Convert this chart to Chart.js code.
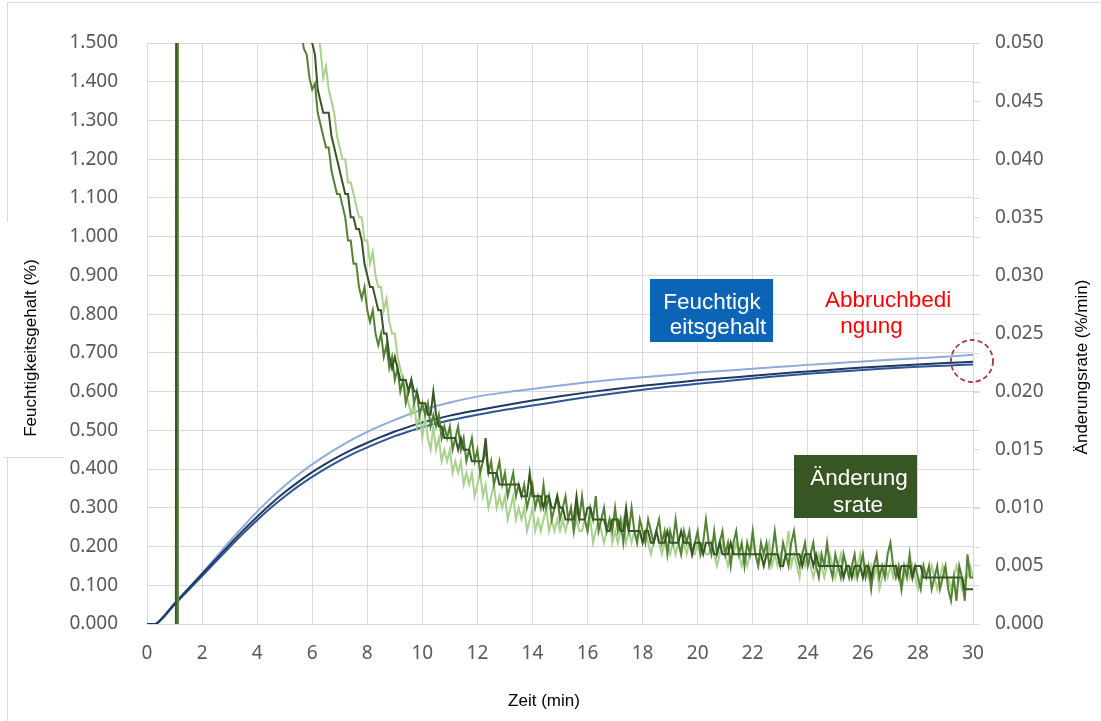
<!DOCTYPE html>
<html><head><meta charset="utf-8">
<script src="https://cdn.jsdelivr.net/npm/chart.js@4.4.1/dist/chart.umd.min.js"></script>
<style>html,body{margin:0;padding:0;background:#fff;}canvas{display:block;}</style>
</head><body>
<canvas id="c" width="1101" height="721"></canvas>
<script>
// ---- axis ticks ----
const xTicks = [0,2,4,6,8,10,12,14,16,18,20,22,24,26,28,30];
const leftTicks = [0,0.1,0.2,0.3,0.4,0.5,0.6,0.7,0.8,0.9,1.0,1.1,1.2,1.3,1.4,1.5];
const rightTicks = [0,0.005,0.01,0.015,0.02,0.025,0.03,0.035,0.04,0.045,0.05];

// ---- moisture content (%) ----
const moistT = [0,0.3,0.5,1,1.5,2,2.5,3,3.5,4,4.5,5,5.5,6,6.5,7,7.5,8,8.5,9,9.5,10,
  11,12,13,14,15,16,17,18,19,20,21,22,23,24,25,26,27,28,29,30];
const moistLight = [0,0,0.01,0.052,0.091,0.131,0.172,0.213,0.252,0.29,0.325,0.357,0.386,0.412,0.436,0.458,0.478,0.496,0.512,0.527,0.541,0.553,
  0.572,0.587,0.598,0.607,0.616,0.624,0.631,0.637,0.643,0.649,0.654,0.659,0.664,0.669,0.673,0.678,0.682,0.686,0.69,0.695];
const moistNavy = [0,0,0.012,0.053,0.091,0.129,0.167,0.205,0.242,0.277,0.31,0.34,0.367,0.392,0.414,0.434,0.452,0.468,0.483,0.497,0.509,0.52,
  0.538,0.552,0.565,0.577,0.588,0.598,0.607,0.615,0.622,0.629,0.635,0.641,0.647,0.652,0.657,0.662,0.666,0.67,0.674,0.677];
const moistMid = [0,0,0.01,0.05,0.087,0.124,0.161,0.198,0.234,0.268,0.30,0.329,0.356,0.38,0.402,0.422,0.44,0.456,0.471,0.485,0.497,0.508,
  0.526,0.54,0.553,0.564,0.575,0.586,0.596,0.605,0.613,0.62,0.627,0.634,0.64,0.646,0.651,0.656,0.66,0.664,0.667,0.67];

// ---- rate of change (%/min) ----
// lead-in: jump at start (values above the axis maximum are clipped)
const leadTDark = [1.05, 1.07, 3.0, 5.0];
const leadTMid = [1.10, 1.12, 3.0, 5.0];
const leadTLight = [1.10, 1.12, 3.0, 5.0];
const leadDark = [0, 0.12, 0.09, 0.064];
const leadMid = [0, 0.12, 0.085, 0.058];
const leadLight = [0, 0.12, 0.095, 0.07];
// sampled every 0.1 min from 5.5 to 30.0 min
const rateStart = 5.5, rateStep = 0.1;
const rateDark = [0.058,0.057,0.055,0.054,0.053,
0.050,0.049,0.046,0.045,0.044,0.044,0.044,0.042,0.041,0.040,
0.039,0.038,0.037,0.037,0.035,0.035,0.034,0.034,0.033,0.031,
0.030,0.029,0.029,0.028,0.027,0.027,0.025,0.025,0.023,0.022,
0.023,0.022,0.021,0.021,0.021,0.020,0.021,0.020,0.020,0.019,
0.019,0.019,0.018,0.018,0.020,0.018,0.017,0.017,0.016,0.016,
0.016,0.016,0.016,0.015,0.016,0.015,0.015,0.015,0.014,0.014,
0.014,0.014,0.014,0.016,0.013,0.013,0.013,0.013,0.012,0.012,
0.012,0.012,0.012,0.012,0.012,0.012,0.011,0.011,0.011,0.013,
0.011,0.011,0.011,0.011,0.010,0.011,0.011,0.010,0.010,0.011,
0.010,0.010,0.009,0.009,0.009,0.009,0.011,0.009,0.009,0.009,
0.010,0.010,0.009,0.009,0.009,0.009,0.009,0.008,0.008,0.009,
0.009,0.009,0.008,0.008,0.010,0.008,0.008,0.008,0.008,0.008,
0.007,0.008,0.008,0.007,0.007,0.008,0.007,0.007,0.007,0.008,
0.007,0.007,0.007,0.007,0.008,0.007,0.007,0.007,0.006,0.007,
0.007,0.007,0.006,0.007,0.007,0.007,0.006,0.006,0.007,0.006,
0.006,0.006,0.007,0.006,0.006,0.006,0.006,0.006,0.006,0.006,
0.006,0.006,0.006,0.006,0.005,0.006,0.006,0.006,0.006,0.006,
0.005,0.005,0.006,0.006,0.006,0.006,0.006,0.006,0.005,0.006,
0.006,0.006,0.005,0.006,0.005,0.005,0.005,0.005,0.005,0.005,
0.005,0.005,0.005,0.004,0.005,0.005,0.004,0.005,0.005,0.005,
0.004,0.005,0.005,0.004,0.005,0.005,0.005,0.005,0.005,0.005,
0.005,0.005,0.005,0.004,0.005,0.005,0.005,0.005,0.004,0.005,
0.005,0.005,0.004,0.004,0.004,0.004,0.004,0.004,0.004,0.004,
0.004,0.004,0.004,0.004,0.004,0.004,0.004,0.003,0.003,0.003,
0.003];
const rateMid = [0.052,0.051,0.0495,0.049,0.047,
0.046,0.0465,0.044,0.043,0.042,0.041,0.041,0.039,0.038,0.037,
0.037,0.036,0.035,0.033,0.033,0.031,0.031,0.029,0.028,0.029,
0.027,0.026,0.027,0.025,0.024,0.025,0.023,0.024,0.022,0.023,
0.021,0.022,0.020,0.021,0.019,0.020,0.021,0.019,0.020,0.018,
0.019,0.018,0.019,0.017,0.018,0.017,0.018,0.016,0.017,0.016,
0.017,0.015,0.016,0.017,0.015,0.016,0.014,0.015,0.016,0.014,
0.015,0.013,0.014,0.015,0.013,0.014,0.012,0.013,0.014,0.012,
0.013,0.011,0.012,0.013,0.011,0.012,0.011,0.012,0.010,0.011,
0.012,0.010,0.011,0.010,0.012,0.010,0.011,0.009,0.010,0.011,
0.009,0.010,0.011,0.009,0.010,0.008,0.010,0.009,0.011,0.009,
0.008,0.010,0.009,0.011,0.008,0.009,0.010,0.008,0.009,0.008,
0.010,0.008,0.009,0.007,0.009,0.008,0.010,0.008,0.007,0.009,
0.008,0.007,0.009,0.008,0.007,0.008,0.009,0.007,0.008,0.006,
0.008,0.007,0.009,0.007,0.006,0.008,0.007,0.008,0.006,0.007,
0.008,0.006,0.007,0.009,0.007,0.006,0.008,0.006,0.007,0.008,
0.006,0.007,0.005,0.007,0.008,0.006,0.007,0.005,0.007,0.006,
0.008,0.006,0.005,0.007,0.006,0.007,0.005,0.006,0.008,0.006,
0.005,0.007,0.006,0.005,0.007,0.008,0.006,0.005,0.006,0.007,
0.005,0.006,0.007,0.005,0.004,0.006,0.005,0.007,0.005,0.004,
0.006,0.005,0.004,0.006,0.005,0.004,0.005,0.006,0.004,0.005,
0.006,0.004,0.005,0.003,0.005,0.006,0.004,0.005,0.004,0.006,
0.007,0.005,0.004,0.005,0.003,0.005,0.004,0.006,0.004,0.005,
0.004,0.003,0.005,0.004,0.005,0.003,0.004,0.005,0.003,0.004,
0.005,0.003,0.002,0.004,0.002,0.005,0.004,0.002,0.006,0.004,
0.004];
const rateLight = [0.062,0.060,0.058,0.056,0.055,
0.053,0.052,0.051,0.0495,0.047,0.048,0.046,0.045,0.044,0.042,
0.041,0.040,0.040,0.038,0.038,0.037,0.036,0.035,0.035,0.033,
0.033,0.031,0.032,0.030,0.029,0.029,0.027,0.028,0.026,0.025,
0.025,0.023,0.022,0.021,0.020,0.019,0.018,0.019,0.017,0.018,
0.016,0.018,0.016,0.015,0.017,0.015,0.016,0.014,0.015,0.014,
0.015,0.013,0.014,0.013,0.014,0.012,0.013,0.012,0.013,0.011,
0.012,0.013,0.011,0.012,0.010,0.011,0.012,0.010,0.011,0.010,
0.011,0.009,0.010,0.011,0.009,0.010,0.009,0.010,0.008,0.009,
0.010,0.008,0.009,0.008,0.009,0.010,0.008,0.009,0.008,0.009,
0.008,0.009,0.008,0.009,0.010,0.008,0.009,0.008,0.008,0.009,
0.008,0.009,0.007,0.008,0.009,0.008,0.007,0.008,0.009,0.007,
0.008,0.007,0.008,0.009,0.007,0.008,0.007,0.008,0.007,0.008,
0.007,0.008,0.007,0.006,0.007,0.008,0.007,0.006,0.007,0.007,
0.006,0.007,0.006,0.007,0.006,0.007,0.006,0.007,0.006,0.006,
0.007,0.006,0.007,0.006,0.006,0.007,0.006,0.005,0.006,0.007,
0.006,0.005,0.006,0.006,0.007,0.006,0.005,0.006,0.005,0.006,
0.007,0.006,0.005,0.006,0.005,0.006,0.007,0.005,0.006,0.005,
0.006,0.005,0.006,0.008,0.005,0.006,0.005,0.004,0.006,0.005,
0.006,0.005,0.004,0.005,0.006,0.005,0.004,0.005,0.006,0.005,
0.004,0.005,0.006,0.004,0.005,0.004,0.005,0.004,0.005,0.006,
0.004,0.005,0.004,0.005,0.004,0.005,0.003,0.004,0.005,0.004,
0.005,0.004,0.005,0.004,0.003,0.004,0.005,0.004,0.005,0.004,
0.003,0.004,0.005,0.004,0.004,0.005,0.004,0.003,0.004,0.005,
0.004,0.004,0.003,0.004,0.005,0.004,0.003,0.004,0.004,0.005,
0.004];

// ---- build point lists ----
function pts(ts, vs) { return vs.map((v, i) => ({x: ts[i], y: v})); }
function ratePts(leadT, lead, vals) {
  const a = pts(leadT, lead);
  vals.forEach((v, i) => a.push({x: +(rateStart + i * rateStep).toFixed(1), y: v}));
  return a;
}

const tickFont = {family: '"Noto Sans", Roboto, sans-serif', size: 19};
const tickColor = '#595959';
const gridColor = '#d9d9d9';

const deco = {
  id: 'deco',
  beforeDraw(chart) {
    const c = chart.ctx;
    c.save();
    c.fillStyle = '#fff';
    c.fillRect(0, 0, chart.width, chart.height);
    c.strokeStyle = gridColor; c.lineWidth = 1;
    c.beginPath();
    c.moveTo(7.5, chart.height + 5); c.lineTo(7.5, 2.5); c.lineTo(chart.width + 5, 2.5);
    c.stroke();
    c.fillStyle = '#fff';
    c.fillRect(0, 222, 64, 235);
    c.beginPath(); c.moveTo(3, 457.5); c.lineTo(64, 457.5); c.stroke();
    c.restore();
  },
  afterDraw(chart) {
    const c = chart.ctx, a = chart.chartArea, ys = chart.scales.y;
    c.save();
    // left grid lines extend a little past the right axis
    c.strokeStyle = gridColor; c.lineWidth = 1;
    leftTicks.forEach(v => {
      const y = Math.round(ys.getPixelForValue(v)) + 0.5;
      c.beginPath(); c.moveTo(a.right, y); c.lineTo(a.right + 7, y); c.stroke();
    });
    // axis titles
    c.fillStyle = '#000';
    c.font = '17px "Liberation Sans", Arial, sans-serif';
    c.textAlign = 'center'; c.textBaseline = 'alphabetic';
    c.fillText('Zeit (min)', 544, 706);
    c.textBaseline = 'middle';
    c.save(); c.translate(31, 348); c.rotate(-Math.PI / 2); c.fillText('Feuchtigkeitsgehalt (%)', 0, 0); c.restore();
    c.save(); c.translate(1082, 367); c.rotate(-Math.PI / 2); c.fillText('Änderungsrate (%/min)', 0, 0); c.restore();
    // labels
    c.textBaseline = 'alphabetic';
    c.font = '22.5px "Liberation Sans", Arial, sans-serif';
    c.fillStyle = '#0b64b5';
    c.fillRect(650, 279, 123, 63);
    c.fillStyle = '#fff';
    c.fillText('Feuchtigk', 712, 309);
    c.fillText('eitsgehalt', 718, 334);
    c.fillStyle = '#375623';
    c.fillRect(794, 455, 123, 63);
    c.fillStyle = '#fff';
    c.fillText('Änderung', 859, 485);
    c.fillText('srate', 858, 511.5);
    c.fillStyle = '#ff0000';
    c.textAlign = 'left';
    c.fillText('Abbruchbedi', 825, 307);
    c.textAlign = 'center';
    c.fillText('ngung', 871.5, 333);
    // dashed circle
    c.strokeStyle = '#a23b3e'; c.lineWidth = 1.8; c.setLineDash([5, 3]);
    c.beginPath(); c.arc(972, 361, 21, 0, Math.PI * 2); c.stroke();
    c.restore();
  }
};

const common = {pointRadius: 0, borderWidth: 2, fill: false};
new Chart(document.getElementById('c'), {
  type: 'line',
  data: {
    datasets: [
      {...common, label: 'rate 3', data: ratePts(leadTDark, leadDark, rateDark), borderColor: '#375623', yAxisID: 'y2', tension: 0},
      {...common, label: 'rate 2', data: ratePts(leadTMid, leadMid, rateMid), borderColor: '#548235', yAxisID: 'y2', tension: 0},
      {...common, label: 'rate 1', data: ratePts(leadTLight, leadLight, rateLight), borderColor: '#a9d18e', yAxisID: 'y2', tension: 0},
      {...common, label: 'moist 2', data: pts(moistT, moistNavy), borderColor: '#1f3864', yAxisID: 'y', cubicInterpolationMode: 'monotone'},
      {...common, label: 'moist 3', data: pts(moistT, moistMid), borderColor: '#2f5597', yAxisID: 'y', cubicInterpolationMode: 'monotone'},
      {...common, label: 'moist 1', data: pts(moistT, moistLight), borderColor: '#8faadc', yAxisID: 'y', cubicInterpolationMode: 'monotone'}
    ]
  },
  options: {
    responsive: false, animation: false, devicePixelRatio: 1,
    layout: {padding: {top: 43, left: 0, right: 0, bottom: 0}},
    plugins: {legend: {display: false}, tooltip: {enabled: false}},
    scales: {
      x: {
        type: 'linear', min: 0, max: 30,
        afterBuildTicks: s => { s.ticks = xTicks.map(v => ({value: v})); },
        afterFit: s => { s.height = 97; },
        grid: {color: gridColor, drawTicks: false},
        border: {color: gridColor},
        ticks: {padding: 18, font: tickFont, color: tickColor, maxRotation: 0, autoSkip: false, callback: v => String(v)}
      },
      y: {
        position: 'left', min: 0, max: 1.5,
        afterBuildTicks: s => { s.ticks = leftTicks.map(v => ({value: v})); },
        afterFit: s => { s.width = 147; },
        grid: {color: gridColor, drawTicks: false},
        border: {color: gridColor},
        ticks: {padding: 29, font: tickFont, color: tickColor, autoSkip: false, callback: v => Number(v).toFixed(3)}
      },
      y2: {
        position: 'right', min: 0, max: 0.05,
        afterBuildTicks: s => { s.ticks = rightTicks.map(v => ({value: v})); },
        afterFit: s => { s.width = 128; },
        grid: {drawOnChartArea: false, drawTicks: true, tickLength: 7, color: gridColor},
        border: {color: gridColor},
        ticks: {padding: 15, font: tickFont, color: tickColor, autoSkip: false, callback: v => Number(v).toFixed(3)}
      }
    }
  },
  plugins: [deco]
});
</script>
</body></html>
